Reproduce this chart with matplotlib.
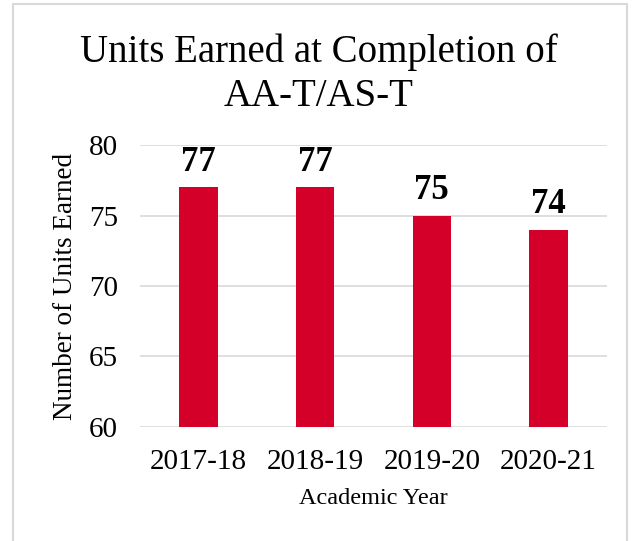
import matplotlib
matplotlib.use("Agg")
import matplotlib.pyplot as plt
from matplotlib.patches import Rectangle

categories = ["2017-18", "2018-19", "2019-20", "2020-21"]
units = [77, 77, 75, 74]
yticks = [60, 65, 70, 75, 80]

plt.rcParams['font.family'] = ['Liberation Serif', 'DejaVu Serif']

W, H = 638, 541
fig = plt.figure(figsize=(W/100, H/100), dpi=100)
fig.patches.append(Rectangle((13/W, -0.05), (627-13)/W, 1.05 - 4/H, transform=fig.transFigure,
                             fill=False, edgecolor="#d9d9d9", linewidth=1.5))
ax = fig.add_axes([140/W, 1-427/H, (607-140)/W, (427-145)/H])

x = range(len(categories))
bars = ax.bar(x, units, width=0.33, color="#D40029", zorder=3)
ax.set_ylim(60, 80)
ax.set_xlim(-0.5, len(categories)-0.5)
ax.set_yticks(yticks)
ax.set_xticks(list(x))
ax.set_xticklabels(categories)
ax.tick_params(axis='both', length=0, labelsize=21, colors="#000000")
ax.tick_params(axis='y', pad=16)
ax.tick_params(axis='x', pad=16)
ax.grid(axis='y', color="#d9d9d9", linewidth=1.2, zorder=0)
for s in ax.spines.values():
    s.set_visible(False)

for xi, v in zip(x, units):
    ax.annotate(str(v), (xi, v), xytext=(0, 6), textcoords="offset points",
                ha='center', va='bottom', fontsize=25, fontweight='bold')

ax.set_ylabel("Number of Units Earned", fontsize=19.5, labelpad=8)
ax.set_xlabel("Academic Year", fontsize=17.5, labelpad=9)
fig.text(0.5, 1-74/H, "Units Earned at Completion of\nAA-T/AS-T", ha='center', va='center',
         fontsize=28, linespacing=1.25)

fig.savefig("out.png", dpi=100)
